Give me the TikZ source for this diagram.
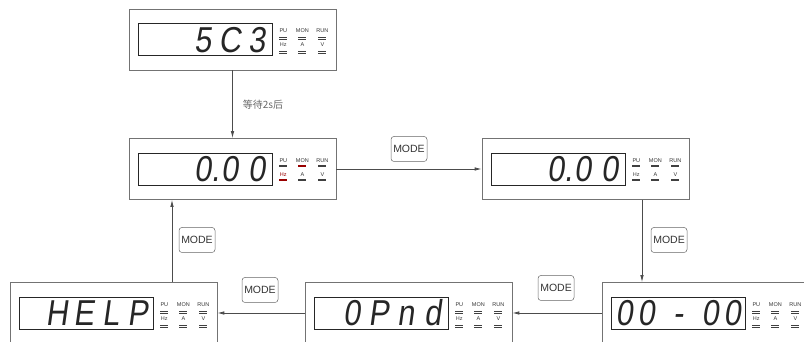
\documentclass[tikz,border=0pt]{standalone}
\usepackage{fontspec}
\setmainfont{Liberation Sans}
\newfontfamily\segfont[FakeSlant=0.14,FakeStretch=0.85]{Liberation Sans}
\newfontfamily\cjkfont{Noto Sans CJK SC}
\usepackage{tikz}
\usetikzlibrary{arrows.meta,positioning,calc}
\newcommand{\dig}[2][27pt]{\makebox[#1][c]{#2}}
% #1 display node, #2 lit colour, #3 bar offsets
\newcommand{\leds}[3]{%
  \begin{scope}[shift={(#1.east)}]
    \node[ledlbl] at (11, 8.5) {PU};
    \node[ledlbl] at (30, 8.5) {MON};
    \node[ledlbl] at (50, 8.5) {RUN};
    \node[ledlbl, text=#2] at (11,-5.5) {Hz};
    \node[ledlbl] at (30,-5.5) {A};
    \node[ledlbl] at (50,-5.5) {V};
    \foreach \o in {#3} {
      \draw[ledbar] (7,1+\o) -- (15,1+\o);
      \draw[ledbar, draw=#2] (26,1+\o) -- (34,1+\o);
      \draw[ledbar] (46,1+\o) -- (54,1+\o);
      \draw[ledbar, draw=#2] (7,-13+\o) -- (15,-13+\o);
      \draw[ledbar] (26,-13+\o) -- (34,-13+\o);
      \draw[ledbar] (46,-13+\o) -- (54,-13+\o);
    }
  \end{scope}}

\begin{document}
\begin{tikzpicture}[x=1pt, y=1pt,
      arr/.style={-{Latex[length=7pt,width=3.5pt]}, line width=0.8pt, black!70},
      panel/.style={draw=black!55, line width=0.6pt, fill=white,
                    minimum width=207pt, minimum height=61pt, inner sep=0pt},
      disp/.style={draw=black!85, line width=0.7pt,
                   minimum width=134pt, minimum height=32pt, inner sep=0pt},
      segtxt/.style={font=\segfont\fontsize{36}{36}\selectfont, text=black!85,
                     inner sep=0pt, text height=26pt, text depth=0pt, anchor=east},
      ledlbl/.style={font=\fontsize{5.5}{6}\selectfont, text=black!80, inner sep=0pt},
      ledbar/.style={line width=0.8pt, black!75},
      modekey/.style={draw=black!60, line width=0.5pt, rounded corners=3pt,
                      minimum width=36pt, minimum height=25pt, inner sep=0pt,
                      font=\fontsize{10.5}{11}\selectfont, text=black!80},
      note/.style={font=\cjkfont\fontsize{10}{11}\selectfont, text=black!60, inner sep=0pt},
    ]
    \useasboundingbox (0,0) rectangle (804,342);

    \node[panel] (p1) at (232.5,302.5) {};
    \node[disp]  (d1) at (205,302.5) {};
    \node[segtxt] (t1) at ([xshift=-2pt]d1.east) {\dig{5}\dig{C}\dig{3}};
    \leds{d1}{black!75}{-1,1}

    \node[panel] (p2) at (232.5,173) {};
    \node[disp]  (d2) at (205,173) {};
    \node[segtxt] (t2) at ([xshift=-2pt]d2.east) {\dig{0\rlap{.}}\dig{0}\dig{0}};
    \leds{d2}{red!60!black}{1.5,2.1}

    \node[panel] (p3) at (585.5,173) {};
    \node[disp]  (d3) at (558,173) {};
    \node[segtxt] (t3) at ([xshift=-2pt]d3.east) {\dig{0\rlap{.}}\dig{0}\dig{0}};
    \leds{d3}{black!75}{1.5,2.1}

    \node[panel] (p4) at (705.5,29) {};
    \node[disp]  (d4) at (678,29) {};
    \node[segtxt] (t4) at ([xshift=-2pt]d4.east) {\dig[22pt]{0}\dig[22pt]{0}\dig[42pt]{-}\dig[22pt]{0}\dig[22pt]{0}};
    \leds{d4}{black!75}{-1,1}

    \node[panel] (p5) at (408.5,29) {};
    \node[disp]  (d5) at (381,29) {};
    \node[segtxt] (t5) at ([xshift=-2pt]d5.east) {\dig{0}\dig{P}\dig{n}\dig{d}};
    \leds{d5}{black!75}{-1,1}

    \node[panel] (p6) at (113.5,29) {};
    \node[disp]  (d6) at (86,29) {};
    \node[segtxt] (t6) at ([xshift=-2pt]d6.east) {\dig{H}\dig{E}\dig{L}\dig{P}};
    \leds{d6}{black!75}{-1,1}

    \node[note] (wait) at (263,237) {等待2s后};
    \node[modekey] (m1) at (409,193) {MODE};
    \node[modekey] (m2) at (669,102) {MODE};
    \node[modekey] (m3) at (556,54)  {MODE};
    \node[modekey] (m4) at (260,52)  {MODE};
    \node[modekey] (m5) at (197,102) {MODE};

    \draw[arr] (p1.south) -- (p2.north);
    \draw[arr] (p2.east)  -- (p3.west);
    \draw[arr] ([xshift=56.5pt]p3.south) -- ([xshift=56.5pt]p3.south |- p4.north);
    \draw[arr] (p4.west)  -- (p5.east);
    \draw[arr] (p5.west)  -- (p6.east);
    \draw[arr] ([xshift=58.5pt]p6.north) -- ([xshift=58.5pt]p6.north |- p2.south);
  \end{tikzpicture}
\end{document}
